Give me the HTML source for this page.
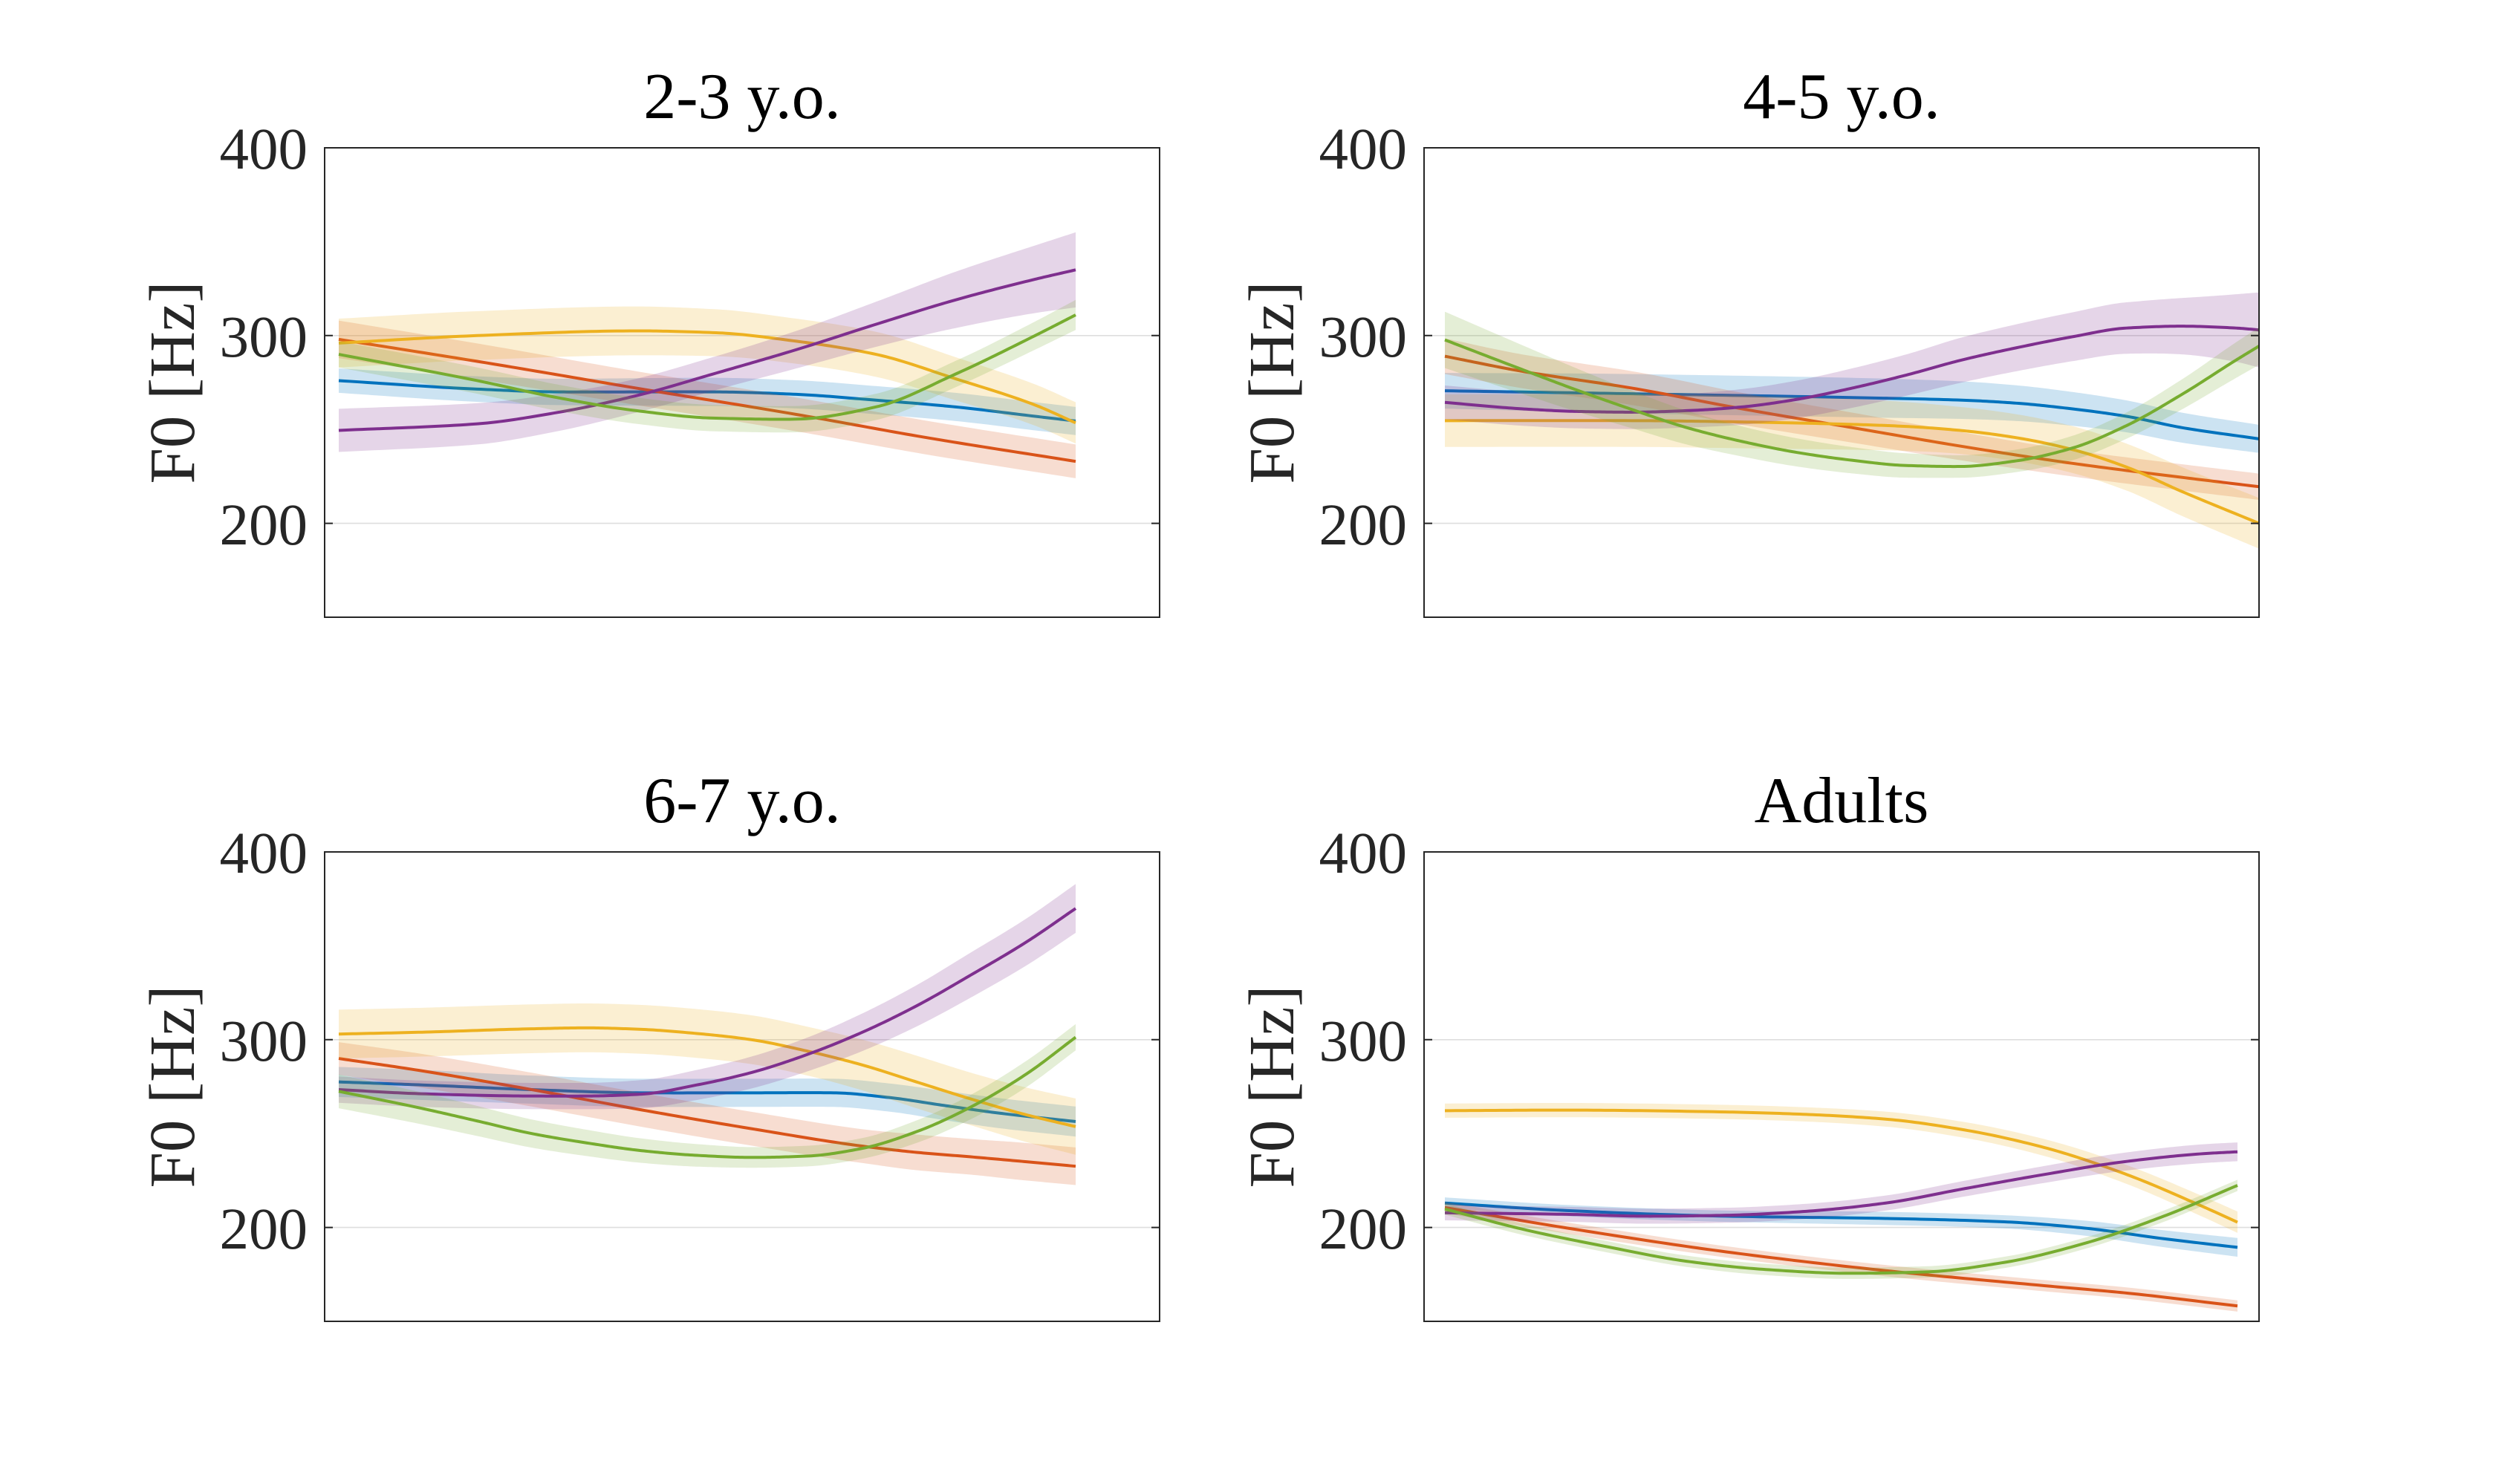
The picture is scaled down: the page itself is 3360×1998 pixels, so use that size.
<!DOCTYPE html>
<html><head><meta charset="utf-8"><style>
html,body{margin:0;padding:0;background:#fff;}
svg{display:block;}
text{font-family:"Liberation Serif",serif;}
.tl{font-size:79px;fill:#262626;text-anchor:end;}
.yl{font-size:87px;fill:#262626;text-anchor:middle;}
.tt{font-size:88px;fill:#000;text-anchor:middle;}
.grid{stroke:#dedede;stroke-width:1.6;}
.tick{stroke:#262626;stroke-width:2;}
.frame{fill:none;stroke:#262626;stroke-width:2;}
</style></head><body>
<svg id="s" width="3360" height="1998" viewBox="0 0 3360 1998" xmlns="http://www.w3.org/2000/svg">
<rect width="3360" height="1998" fill="#fff"/>
<defs><clipPath id="cp"><rect x="0" y="0" width="1124" height="632"/></clipPath></defs>

<g transform="translate(437,199)">
<line class="grid" x1="0" x2="1124" y1="252.8" y2="252.8"/><line class="grid" x1="0" x2="1124" y1="505.6" y2="505.6"/>
<g id="d0" clip-path="url(#cp)"></g>
<rect class="frame" x="0" y="0" width="1124" height="632"/>
<path class="tick" d="M0 252.8H11M0 505.6H11M1113 252.8H1124M1113 505.6H1124"/>
<text class="tl" x="-23" y="28">400</text><text class="tl" x="-23" y="281">300</text><text class="tl" x="-23" y="534">200</text>
<text class="yl" transform="translate(-176,316) rotate(-90)">F0 [Hz]</text>
<text class="tt" x="562" y="-40">2-3 y.o.</text>
</g>

<g transform="translate(1917,199)">
<line class="grid" x1="0" x2="1124" y1="252.8" y2="252.8"/><line class="grid" x1="0" x2="1124" y1="505.6" y2="505.6"/>
<g id="d1" clip-path="url(#cp)"></g>
<rect class="frame" x="0" y="0" width="1124" height="632"/>
<path class="tick" d="M0 252.8H11M0 505.6H11M1113 252.8H1124M1113 505.6H1124"/>
<text class="tl" x="-23" y="28">400</text><text class="tl" x="-23" y="281">300</text><text class="tl" x="-23" y="534">200</text>
<text class="yl" transform="translate(-176,316) rotate(-90)">F0 [Hz]</text>
<text class="tt" x="562" y="-40">4-5 y.o.</text>
</g>

<g transform="translate(437,1147)">
<line class="grid" x1="0" x2="1124" y1="252.8" y2="252.8"/><line class="grid" x1="0" x2="1124" y1="505.6" y2="505.6"/>
<g id="d2" clip-path="url(#cp)"></g>
<rect class="frame" x="0" y="0" width="1124" height="632"/>
<path class="tick" d="M0 252.8H11M0 505.6H11M1113 252.8H1124M1113 505.6H1124"/>
<text class="tl" x="-23" y="28">400</text><text class="tl" x="-23" y="281">300</text><text class="tl" x="-23" y="534">200</text>
<text class="yl" transform="translate(-176,316) rotate(-90)">F0 [Hz]</text>
<text class="tt" x="562" y="-40">6-7 y.o.</text>
</g>

<g transform="translate(1917,1147)">
<line class="grid" x1="0" x2="1124" y1="252.8" y2="252.8"/><line class="grid" x1="0" x2="1124" y1="505.6" y2="505.6"/>
<g id="d3" clip-path="url(#cp)"></g>
<rect class="frame" x="0" y="0" width="1124" height="632"/>
<path class="tick" d="M0 252.8H11M0 505.6H11M1113 252.8H1124M1113 505.6H1124"/>
<text class="tl" x="-23" y="28">400</text><text class="tl" x="-23" y="281">300</text><text class="tl" x="-23" y="534">200</text>
<text class="yl" transform="translate(-176,316) rotate(-90)">F0 [Hz]</text>
<text class="tt" x="562" y="-40">Adults</text>
</g>
</svg>
<script>
(function(){
var COL=["#0072BD","#D95319","#EDB120","#7E2F8E","#77AC30"];
var P=[
{x0:19,x1:1011,S:[
[[0,276,6.5],[0.188,271.5,6.8],[0.296,270,7],[0.512,270,7.5],[0.621,268.7,7.5],[0.729,265.6,7.5],[0.837,262,7.5],[0.945,257,7.5],[1,254.5,7.5]],
[[0,298,10],[0.2,285.5,9.5],[0.404,272,9],[0.621,258,9],[0.8,245.5,9],[1,233,9]],
[[0,296,13],[0.188,300,13],[0.404,302.5,13],[0.512,301.5,12.5],[0.621,297,12],[0.729,290,12],[0.837,277,11.5],[0.945,263,11],[1,253.5,11]],
[[0,249.5,11.5],[0.188,253,11],[0.296,259,10],[0.404,268,9],[0.512,280,9],[0.621,292.5,10],[0.729,306,12],[0.837,319,15],[0.945,330,18],[1,335,20]],
[[0,290,7],[0.188,276,7],[0.296,267,7],[0.404,260,7],[0.512,256,7],[0.621,255.5,7],[0.729,262,7],[0.837,279.5,7],[0.945,300,7.5],[1,311,8]]
]},
{x0:28,x1:1124,S:[
[[0,270.6,9.5],[0.23,269,10.5],[0.5,267,10.5],[0.635,265.6,10],[0.702,264,9.5],[0.77,261,9],[0.837,257,8.5],[0.905,251,8],[1,245,7.5]],
[[0,289,9.5],[0.0945,281,9],[0.23,272,9],[0.365,261,8.5],[0.5,251,8],[0.635,241,7.5],[0.77,232,7],[0.905,224.5,7],[1,219.5,7]],
[[0,254.7,14],[0.23,254.7,14],[0.365,254,14],[0.5,252.7,13.5],[0.567,251.6,13],[0.635,249.4,12.5],[0.702,245.6,12.5],[0.77,239.4,12.5],[0.837,230,12.5],[0.905,217,13],[1,200,13.5]],
[[0,264.4,9],[0.0945,261,9],[0.162,259.6,9],[0.23,259.2,9],[0.297,260,9],[0.365,262,9.5],[0.432,266,10],[0.5,272,10.5],[0.567,279,11],[0.635,287,12],[0.702,293.5,12.5],[0.77,299.3,13],[0.837,304,13.7],[0.905,305,15],[0.972,304,18],[1,303,20]],
[[0,297.7,15],[0.0945,282,13],[0.162,271,11.5],[0.23,260.6,10],[0.297,251,9],[0.365,243.6,8],[0.432,237.8,7.5],[0.5,233.6,7],[0.567,230.8,6.5],[0.635,230.3,6],[0.702,233.3,6],[0.77,240,6.5],[0.837,252,7],[0.905,268.6,8],[0.972,287,9.5],[1,294.4,10]]
]},
{x0:19,x1:1011,S:[
[[0,277.5,8],[0.113,275.9,8],[0.262,273.4,7.5],[0.411,271.7,7.5],[0.56,271.7,7.5],[0.672,271.7,7.5],[0.747,269.2,7.5],[0.821,265,7.8],[0.896,260.9,8],[1,256.4,8]],
[[0,290,8.7],[0.113,283.4,9],[0.262,273.4,9],[0.411,262.6,9],[0.56,252.6,9],[0.709,243.4,9],[0.784,240,9.5],[0.858,237.6,9.5],[0.933,235,10],[1,232.6,10]],
[[0,303,13],[0.113,304,13],[0.262,305.8,13],[0.337,306.3,13],[0.411,305.5,13],[0.486,303.3,13],[0.56,300,13],[0.635,294,13],[0.709,286.7,13.5],[0.784,277.5,14],[0.858,268.4,14],[0.933,260,14.5],[1,253.7,15]],
[[0,273.4,7],[0.113,271.2,7],[0.262,270,7],[0.337,270,7],[0.411,271,7.5],[0.486,275.9,8],[0.56,282.5,8.5],[0.635,292,9],[0.709,303.7,10],[0.784,318,11],[0.858,334.5,12],[0.933,352,12.5],[1,369.9,13]],
[[0,272.5,9],[0.113,263.4,8.5],[0.188,256.7,8],[0.262,250,7.5],[0.337,245,7],[0.411,240.9,6.5],[0.486,238.4,6],[0.56,237.3,5.5],[0.635,238,5.5],[0.709,242,5.5],[0.784,251,6],[0.858,264.2,6.5],[0.933,281.7,7],[1,301.3,7]]
]},
{x0:28,x1:1095,S:[
[[0,213,3],[0.154,209,3],[0.355,206,3],[0.556,204.8,3.5],[0.706,203,3.5],[0.806,199.7,4],[0.907,194,4.5],[1,189.4,5]],
[[0,210.6,3],[0.154,199.7,3],[0.355,187,3],[0.556,177,3],[0.756,169,3],[0.857,165.2,3],[1,158.2,3]],
[[0,262.2,3.8],[0.154,262.5,3.8],[0.355,261.5,3.8],[0.456,260.2,3.8],[0.556,257.7,4],[0.656,251.9,4.2],[0.756,242.6,4.5],[0.857,228.7,5],[0.957,211,5.5],[1,202.8,5.7]],
[[0,207.8,4],[0.154,207,4],[0.255,206,4],[0.355,206.5,4],[0.456,208.6,4],[0.556,213,4],[0.656,220.7,4.2],[0.756,228.2,4.5],[0.857,235,4.8],[0.957,239.3,5],[1,240.3,5]],
[[0,209.8,3],[0.104,198.5,3],[0.205,189.7,3],[0.305,182,3],[0.405,177.6,3],[0.506,175.6,3],[0.606,176.3,3],[0.706,181.4,3],[0.806,191.4,3],[0.907,206,3],[1,222.4,3]]
]}
];
function tang(t,v){var n=t.length,d=[],m=[];for(var i=0;i<n-1;i++)d.push((v[i+1]-v[i])/(t[i+1]-t[i]));
for(var i=0;i<n;i++){if(i==0)m.push(d[0]);else if(i==n-1)m.push(d[n-2]);else{var a=d[i-1],b=d[i];
if(a*b<=0)m.push((a+b)/2*0.3);else{var h0=t[i]-t[i-1],h1=t[i+1]-t[i];var w1=2*h1+h0,w2=h1+2*h0;m.push((w1+w2)/(w1/a+w2/b));}}}return m;}
function sample(pts){var t=pts.map(function(p){return p[0]}),y=pts.map(function(p){return p[1]}),w=pts.map(function(p){return p[2]});
var my=tang(t,y),mw=tang(t,w),out=[];
for(var i=0;i<t.length-1;i++){var h=t[i+1]-t[i],N=24;for(var k=0;k<N;k++){var s=k/N,s2=s*s,s3=s2*s;
var h00=2*s3-3*s2+1,h10=s3-2*s2+s,h01=-2*s3+3*s2,h11=s3-s2;
out.push([t[i]+s*h,h00*y[i]+h10*h*my[i]+h01*y[i+1]+h11*h*my[i+1],h00*w[i]+h10*h*mw[i]+h01*w[i+1]+h11*h*mw[i+1]]);}}
var L=t.length-1;out.push([t[L],y[L],w[L]]);return out;}
var NS="http://www.w3.org/2000/svg";
P.forEach(function(p,pi){var g=document.getElementById("d"+pi);
function X(t){return (p.x0+t*(p.x1-p.x0)).toFixed(2);}
function Y(h){return ((400-h)*632/250).toFixed(2);}
p.S.forEach(function(pts,si){var s=sample(pts);
var up=s.map(function(q){return X(q[0])+","+Y(q[1]+q[2]);});
var lo=s.slice().reverse().map(function(q){return X(q[0])+","+Y(q[1]-q[2]);});
var band=document.createElementNS(NS,"path");band.setAttribute("d","M"+up.join("L")+"L"+lo.join("L")+"Z");
band.setAttribute("fill",COL[si]);band.setAttribute("fill-opacity","0.2");band.setAttribute("stroke","none");g.appendChild(band);
var ln=document.createElementNS(NS,"path");ln.setAttribute("d","M"+s.map(function(q){return X(q[0])+","+Y(q[1]);}).join("L"));
ln.setAttribute("fill","none");ln.setAttribute("stroke",COL[si]);ln.setAttribute("stroke-width","4");ln.setAttribute("stroke-linejoin","round");g.appendChild(ln);
});});
})();
</script>
</body></html>
